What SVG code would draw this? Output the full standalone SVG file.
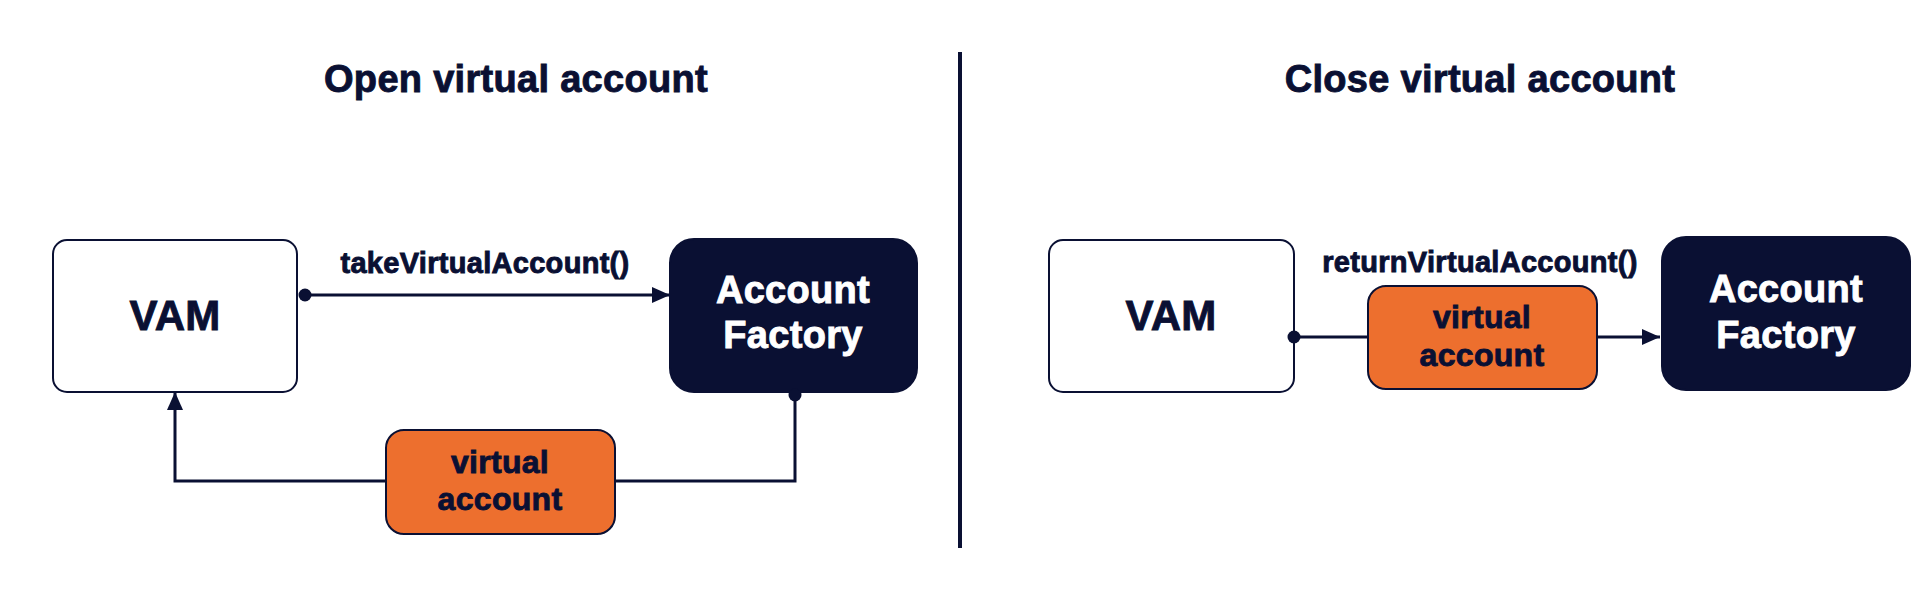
<svg xmlns="http://www.w3.org/2000/svg" width="1920" height="600" viewBox="0 0 1920 600">
<style>
.t{font-family:"Liberation Sans",Arial,sans-serif;font-weight:bold;text-anchor:middle;fill:#0a1033;stroke:#0a1033;stroke-width:0.9;letter-spacing:0.3px}
.w{fill:#ffffff;stroke:#ffffff}
.title{font-size:38px}
.lbl{font-size:29px}
.big{font-size:42px}
.af{font-size:38px}
.va{font-size:32px}
.box{fill:#ffffff;stroke:#0a1033;stroke-width:2}
.dark{fill:#0a1033;stroke:#0a1033;stroke-width:2}
.org{fill:#ed6f2e;stroke:#0a1033;stroke-width:2}
.line{fill:none;stroke:#0a1033;stroke-width:3}
</style>
<defs>
<marker id="arr" markerUnits="userSpaceOnUse" markerWidth="20" markerHeight="18" refX="18" refY="9" orient="auto">
<path d="M0,1 L18,9 L0,17 Z" fill="#0a1033"/>
</marker>
<marker id="dot" markerUnits="userSpaceOnUse" markerWidth="14" markerHeight="14" refX="7" refY="7" orient="auto">
<circle cx="7" cy="7" r="6.5" fill="#0a1033"/>
</marker>
</defs>
<rect width="1920" height="600" fill="#ffffff"/>
<g id="titles">
<text class="t title" x="516" y="92">Open virtual account</text>
<text class="t title" x="1480" y="92">Close virtual account</text>
</g>
<g id="divider"><line x1="960" y1="52" x2="960" y2="548" stroke="#0a1033" stroke-width="4"/></g>
<g id="vam-open">
<rect class="box" x="53" y="240" width="244" height="152" rx="14"/>
<text class="t big" x="175" y="330">VAM</text>
</g>
<g id="factory-open">
<rect class="dark" x="670" y="239" width="247" height="153" rx="24"/>
<text class="t w af" x="793" y="303">Account</text>
<text class="t w af" x="793" y="348">Factory</text>
</g>
<g id="va-open">
<rect class="org" x="386" y="430" width="229" height="104" rx="18"/>
<text class="t va" x="500" y="473">virtual</text>
<text class="t va" x="500" y="510">account</text>
</g>
<g id="vam-close">
<rect class="box" x="1049" y="240" width="245" height="152" rx="14"/>
<text class="t big" x="1171" y="330">VAM</text>
</g>
<g id="va-close">
<rect class="org" x="1368" y="286" width="229" height="103" rx="18"/>
<text class="t va" x="1482" y="328">virtual</text>
<text class="t va" x="1482" y="366">account</text>
</g>
<g id="factory-close">
<rect class="dark" x="1662" y="237" width="248" height="153" rx="24"/>
<text class="t w af" x="1786" y="302">Account</text>
<text class="t w af" x="1786" y="348">Factory</text>
</g>
<g id="connectors">
<path class="line" d="M305,295 L670,295" marker-start="url(#dot)" marker-end="url(#arr)"/>
<path class="line" d="M795,395 L795,481 L615,481 M386,481 L175,481 L175,392" marker-start="url(#dot)" marker-end="url(#arr)"/>
<path class="line" d="M1294,337 L1368,337" marker-start="url(#dot)"/>
<path class="line" d="M1597,337 L1660,337" marker-end="url(#arr)"/>
<text class="t lbl" x="485" y="273">takeVirtualAccount()</text>
<text class="t lbl" x="1480" y="272">returnVirtualAccount()</text>
</g>
</svg>
